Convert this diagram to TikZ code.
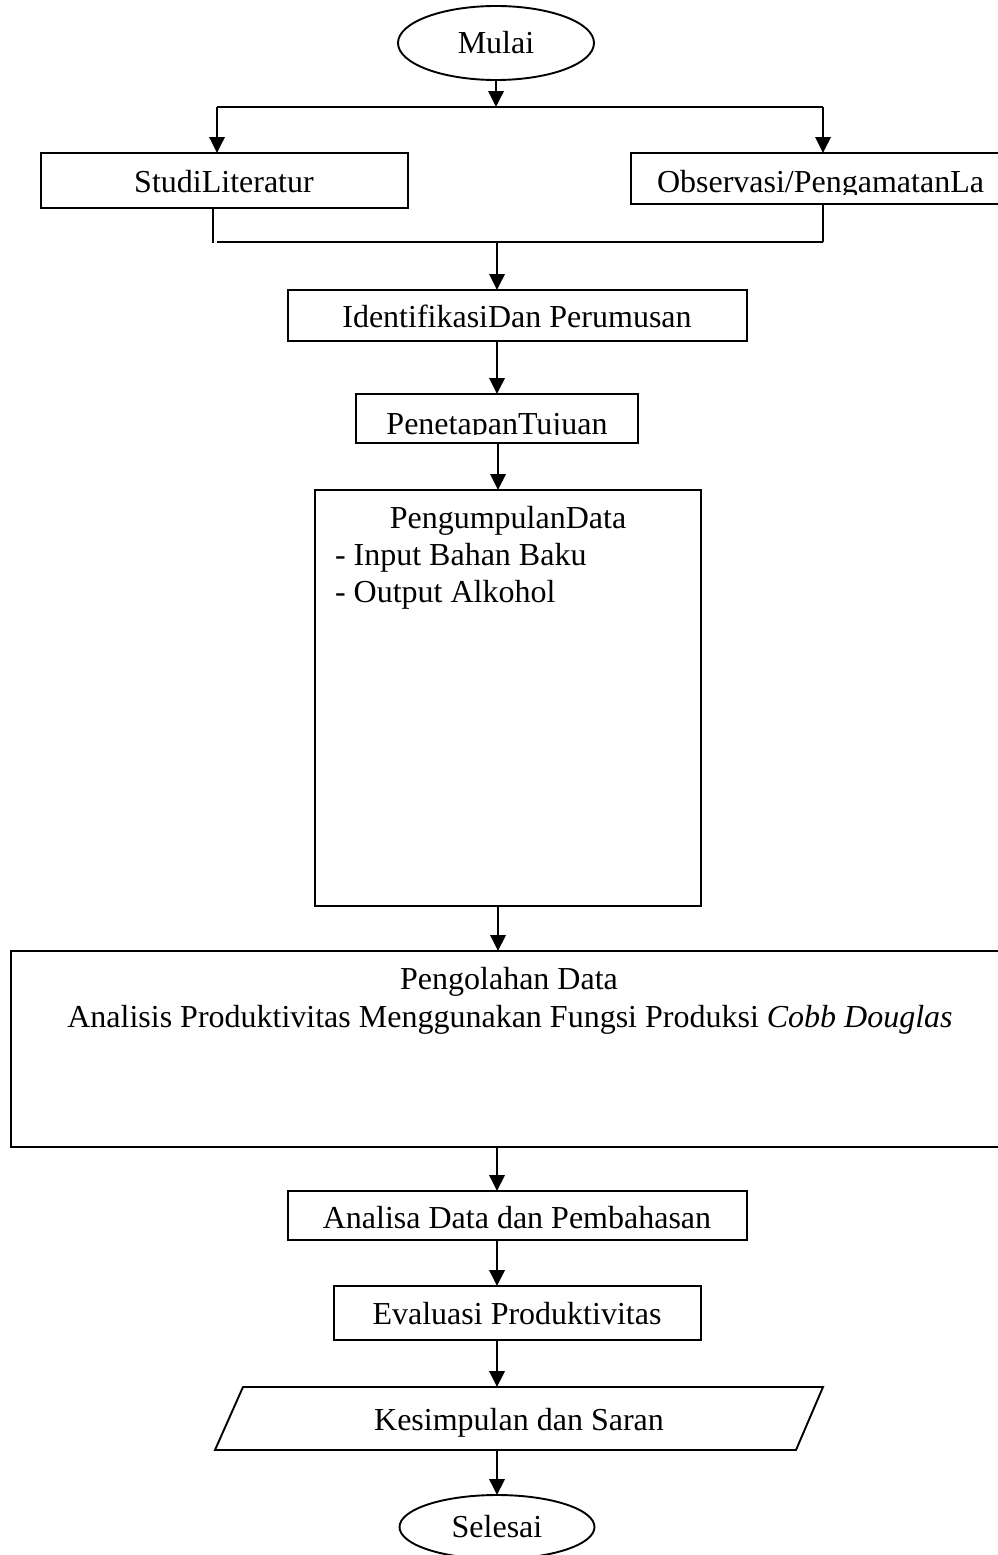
\documentclass[tikz,border=0pt]{standalone}
\usepackage{fontspec}
\setmainfont{Liberation Serif}
\usetikzlibrary{arrows.meta,shapes.geometric,calc}
\begin{document}
\begin{tikzpicture}[x=1pt,y=-1pt,
  lw/.style={line width=1.9pt},
  box/.style={draw,lw,rectangle,inner sep=0pt,outer sep=0pt},
  oval/.style={draw,lw,ellipse,inner sep=0pt,outer sep=0pt,font=\fontsize{32}{38}\selectfont},
  txt/.style={inner sep=0pt,outer sep=0pt,font=\fontsize{32}{38}\selectfont},
  arr/.style={lw,-{Triangle[length=16pt,width=15.5pt]}},
  ln/.style={lw}]
\useasboundingbox (0,0) rectangle (998,1555);

% nodes
\node[oval,minimum width=196pt,minimum height=74pt] (mulai) at (496,43) {Mulai};
\node[box,minimum width=367pt,minimum height=55pt] (studi) at (224.5,180.5) {};
\node[box,minimum width=399pt,minimum height=51pt] (obs) at (830.5,178.5) {};
\node[box,minimum width=459pt,minimum height=51pt] (ident) at (517.5,315.5) {};
\node[box,minimum width=282pt,minimum height=49pt] (penet) at (497,418.5) {};
\node[box,minimum width=386pt,minimum height=416pt] (kumpul) at (508,698) {};
\node[box,minimum width=1019pt,minimum height=196pt] (olah) at (520.5,1049) {};
\node[box,minimum width=459pt,minimum height=49pt] (analisa) at (517.5,1215.5) {};
\node[box,minimum width=367pt,minimum height=54pt] (eval) at (517.5,1313) {};
\node[oval,minimum width=195pt,minimum height=64pt] (selesai) at (497,1527) {Selesai};

% parallelogram
\coordinate (kTL) at (243,1387);
\coordinate (kTR) at (823,1387);
\coordinate (kBR) at (796,1450);
\coordinate (kBL) at (215,1450);
\draw[lw,line join=miter] (kTL) -- (kTR) -- (kBR) -- (kBL) -- cycle;

% texts
\node[txt,anchor=base] (tstudi) at (224,192) {StudiLiteratur};
\begin{scope}
  \clip (631,153) rectangle (998,194);
  \node[txt,anchor=base west] (tobs) at (657,192) {Observasi/PengamatanLa};
\end{scope}
\node[txt,anchor=base] (tident) at (517,327) {IdentifikasiDan Perumusan};
\begin{scope}
  \clip (356,394) rectangle (638,434);
  \node[txt,anchor=base] (tpenet) at (497,434.5) {PenetapanTujuan};
\end{scope}
\node[txt,anchor=base] (tkumpul) at (508,528) {PengumpulanData};
\node[txt,anchor=base west] (tinput) at (335,565) {- Input Bahan Baku};
\node[txt,anchor=base west] (toutput) at (335,602) {- Output Alkohol};
\node[txt,anchor=base] (tolah1) at (509,989) {Pengolahan Data};
\node[txt,anchor=base] (tolah2) at (510,1027) {Analisis Produktivitas Menggunakan Fungsi Produksi \textit{Cobb Douglas}};
\node[txt,anchor=base] (tanalisa) at (517,1228) {Analisa Data dan Pembahasan};
\node[txt,anchor=base] (teval) at (517,1324) {Evaluasi Produktivitas};
\node[txt,anchor=base] (tkesim) at (519,1430) {Kesimpulan dan Saran};

% junction coordinates
\coordinate (jtop) at (496,107);
\coordinate (jtl) at (217,107);
\coordinate (jtr) at (823,107);
\coordinate (jl) at (213,209);
\coordinate (jlb) at (213,243);
\coordinate (jbl) at (217,242);
\coordinate (jbr) at (823,242);
\coordinate (jm) at (497,242);
\coordinate (ax) at (497,0);
\coordinate (ax2) at (498,0);

% connectors
\draw[arr] (mulai.south) -- (jtop);
\draw[ln] (jtl) -- (jtr);
\draw[arr] (jtl) -- (jtl |- studi.north);
\draw[arr] (jtr) -- (jtr |- obs.north);
\draw[ln] (jl) -- (jlb);
\draw[ln] (jbl) -- (jbr);
\draw[ln] (jbr |- obs.south) -- (jbr);
\draw[arr] (jm) -- (jm |- ident.north);
\draw[arr] (ax |- ident.south) -- (ax |- penet.north);
\draw[arr] (ax2 |- penet.south) -- (ax2 |- kumpul.north);
\draw[arr] (ax2 |- kumpul.south) -- (ax2 |- olah.north);
\draw[arr] (ax |- olah.south) -- (ax |- analisa.north);
\draw[arr] (ax |- analisa.south) -- (ax |- eval.north);
\draw[arr] (ax |- eval.south) -- (ax |- kTL);
\draw[arr] (ax |- kBL) -- (selesai.north);
\end{tikzpicture}
\end{document}
